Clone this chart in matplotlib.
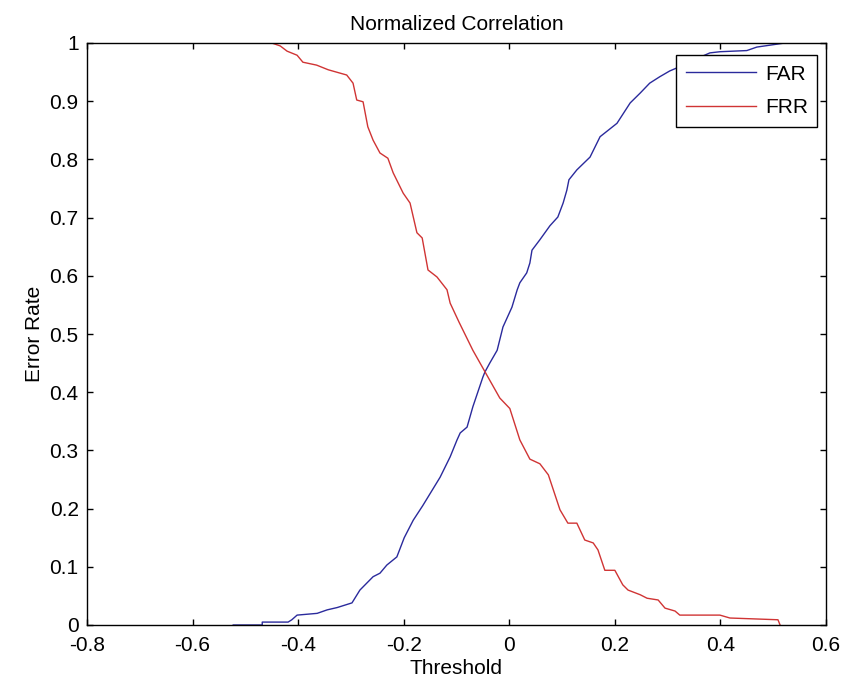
import matplotlib
matplotlib.use('Agg')
import matplotlib.pyplot as plt

plt.rcParams['font.family'] = ['Liberation Sans', 'DejaVu Sans']

# ── data ──────────────────────────────────────────────────────────────────────
far_x = [-0.523, -0.468, -0.468, -0.419, -0.412, -0.402, -0.364, -0.345, -0.326,
         -0.298, -0.283, -0.258, -0.245, -0.232, -0.213, -0.199, -0.182, -0.164,
         -0.131, -0.112, -0.099, -0.093, -0.080, -0.069, -0.050, -0.046, -0.037,
         -0.023, -0.012, 0.005, 0.015, 0.020, 0.033, 0.039, 0.043, 0.058, 0.077,
         0.092, 0.102, 0.109, 0.113, 0.128, 0.153, 0.172, 0.204, 0.229, 0.248,
         0.266, 0.285, 0.304, 0.330, 0.360, 0.380, 0.399, 0.450, 0.469, 0.507, 0.522]
far_y = [0.000, 0.000, 0.005, 0.005, 0.009, 0.017, 0.020, 0.026, 0.030,
         0.038, 0.060, 0.083, 0.089, 0.103, 0.117, 0.150, 0.180, 0.205,
         0.254, 0.289, 0.318, 0.330, 0.340, 0.375, 0.426, 0.435, 0.450,
         0.472, 0.512, 0.546, 0.576, 0.588, 0.605, 0.622, 0.644, 0.662, 0.686,
         0.701, 0.725, 0.747, 0.765, 0.782, 0.804, 0.839, 0.862, 0.897, 0.914,
         0.931, 0.942, 0.952, 0.962, 0.975, 0.983, 0.985, 0.987, 0.993, 0.998, 1.000]

frr_x = [-0.450, -0.434, -0.421, -0.402, -0.391, -0.365, -0.343, -0.308, -0.296,
         -0.289, -0.277, -0.268, -0.258, -0.245, -0.230, -0.220, -0.201, -0.188,
         -0.175, -0.165, -0.154, -0.137, -0.118, -0.112, -0.095, -0.069, -0.046,
         -0.018, 0.001, 0.020, 0.039, 0.058, 0.074, 0.096, 0.111, 0.128, 0.143,
         0.159, 0.168, 0.181, 0.200, 0.215, 0.225, 0.248, 0.261, 0.282, 0.295,
         0.314, 0.323, 0.399, 0.418, 0.509, 0.513]
frr_y = [1.000, 0.995, 0.986, 0.979, 0.967, 0.962, 0.954, 0.945, 0.931,
         0.902, 0.899, 0.856, 0.833, 0.811, 0.802, 0.777, 0.742, 0.725,
         0.674, 0.665, 0.610, 0.598, 0.576, 0.553, 0.520, 0.472, 0.435,
         0.390, 0.372, 0.318, 0.285, 0.277, 0.258, 0.198, 0.175, 0.175, 0.146,
         0.141, 0.129, 0.094, 0.094, 0.069, 0.060, 0.052, 0.046, 0.043, 0.029,
         0.024, 0.017, 0.017, 0.012, 0.009, 0.000]

x_ticks = [-0.8, -0.6, -0.4, -0.2, 0, 0.2, 0.4, 0.6]
x_tick_labels = ['-0.8', '-0.6', '-0.4', '-0.2', '0', '0.2', '0.4', '0.6']
y_ticks = [0, 0.1, 0.2, 0.3, 0.4, 0.5, 0.6, 0.7, 0.8, 0.9, 1]
y_tick_labels = ['0', '0.1', '0.2', '0.3', '0.4', '0.5', '0.6', '0.7', '0.8', '0.9', '1']

# ── figure ────────────────────────────────────────────────────────────────────
fig = plt.figure(figsize=(8.43, 6.88), dpi=100)
ax = fig.add_axes([87 / 843, 63 / 688, 739 / 843, 582 / 688])

ax.plot(far_x, far_y, color='#2a2a9c', linewidth=1.0, label='FAR')
ax.plot(frr_x, frr_y, color='#d03434', linewidth=1.0, label='FRR')

ax.set_xlim(-0.8, 0.6)
ax.set_ylim(0, 1)
ax.set_xticks(x_ticks)
ax.set_xticklabels(x_tick_labels)
ax.set_yticks(y_ticks)
ax.set_yticklabels(y_tick_labels)
ax.tick_params(direction='in', length=4.5, width=1, labelsize=15,
               top=True, right=True, colors='black')
ax.tick_params(axis='x', pad=8)
ax.tick_params(axis='y', pad=6)
for s in ax.spines.values():
    s.set_linewidth(1.0)
    s.set_color('black')

ax.set_title('Normalized Correlation', fontsize=15, pad=9)
ax.set_xlabel('Threshold', fontsize=15, labelpad=2.5)
ax.set_ylabel('Error Rate', fontsize=15, labelpad=4)

leg = ax.legend(loc='upper right', bbox_to_anchor=(0.988, 0.979),
                bbox_transform=ax.transAxes, borderaxespad=0,
                fontsize=15, handlelength=3.4, handletextpad=0.4,
                borderpad=0.45, labelspacing=0.7, fancybox=False,
                framealpha=1, edgecolor='black')
leg.get_frame().set_linewidth(1.0)

fig.savefig('out.png', dpi=100)
